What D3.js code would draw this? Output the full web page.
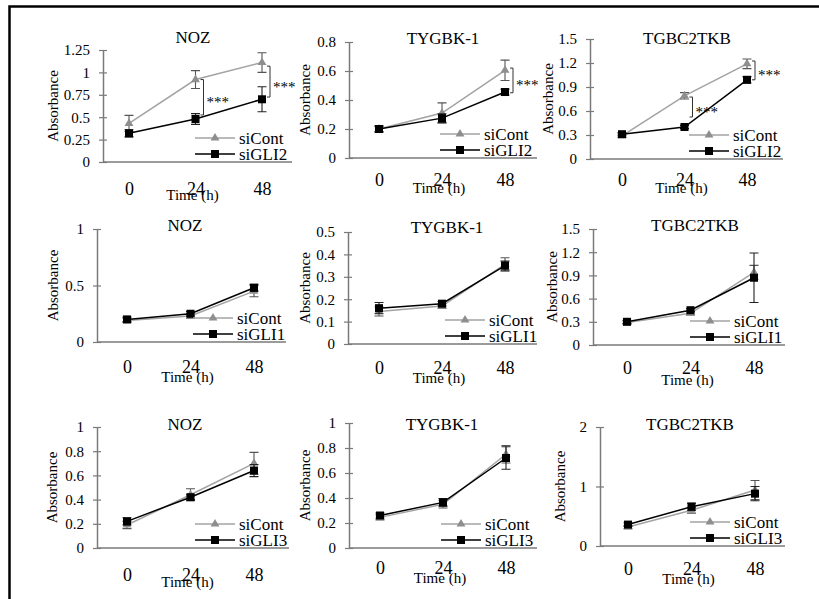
<!DOCTYPE html>
<html>
<head>
<meta charset="utf-8">
<script src="https://cdn.jsdelivr.net/npm/d3@7"></script>
<style>
  body { margin: 0; background: #fff; }
</style>
</head>
<body>
<script>
// absorbance after siRNA knockdown, 3 cell lines x 3 GLI targets

var times = [0, 24, 48];
var cellLines = ["NOZ", "TYGBK-1", "TGBC2TKB"];
var knockdowns = ["siGLI2", "siGLI1", "siGLI3"];
var controlName = "siCont";

// y axis settings per panel (row by row)
var yMax  = [1.25, 0.8, 1.5,  1, 0.5, 1.5,  1, 1, 2];
var yStep = [0.25, 0.2, 0.3,  0.5, 0.1, 0.3,  0.2, 0.2, 1];

// siCont mean / error per panel
var contMean = [
  [0.43, 0.92, 1.11], [0.20, 0.31, 0.605], [0.29, 0.79, 1.19],
  [0.19, 0.23, 0.45], [0.145, 0.17, 0.355], [0.29, 0.41, 0.94],
  [0.19, 0.44, 0.70], [0.245, 0.35, 0.75], [0.32, 0.60, 0.94]
];
var contErr = [
  [0.09, 0.10, 0.11], [0.02, 0.07, 0.07], [0.02, 0.04, 0.06],
  [0.02, 0.02, 0.05], [0.02, 0.01, 0.03], [0.02, 0.02, 0.09],
  [0.03, 0.05, 0.09], [0.02, 0.03, 0.07], [0.03, 0.05, 0.16]
];
// siGLI mean / error per panel
var kdMean = [
  [0.32, 0.48, 0.70], [0.20, 0.275, 0.455], [0.31, 0.40, 0.99],
  [0.20, 0.25, 0.48], [0.16, 0.18, 0.35], [0.30, 0.45, 0.87],
  [0.22, 0.42, 0.64], [0.26, 0.365, 0.72], [0.36, 0.66, 0.88]
];
var kdErr = [
  [0.04, 0.06, 0.14], [0.02, 0.03, 0.02], [0.02, 0.02, 0.04],
  [0.02, 0.02, 0.03], [0.025, 0.01, 0.02], [0.02, 0.02, 0.32],
  [0.03, 0.02, 0.05], [0.02, 0.03, 0.09], [0.03, 0.06, 0.12]
];

// significance brackets (***)
var sigPanel  = [0, 0, 1, 2, 2];
var sigTime   = [24, 48, 48, 24, 48];
var sigTop    = [0.92, 1.07, 0.62, 0.775, 1.225];
var sigBottom = [0.525, 0.725, 0.45, 0.525, 0.99];

// where each small chart sits on the page
var layout = [
  {left: 103, right: 292, top: 50,  bottom: 162, x0: 129, x48: 262, tx: 193, ty: 37,  labDy: 27, timeDy: 33, legX: 215, absDx: -50},
  {left: 349, right: 537, top: 42,  bottom: 158, x0: 379, x48: 505, tx: 443, ty: 38,  labDy: 22, timeDy: 30, legX: 460, absDx: -44},
  {left: 590, right: 783, top: 39,  bottom: 159, x0: 622, x48: 747, tx: 687, ty: 38,  labDy: 21, timeDy: 29, legX: 709, absDx: -42},
  {left: 97,  right: 286, top: 229, bottom: 342, x0: 127, x48: 254, tx: 185, ty: 225, labDy: 25, timeDy: 35, legX: 213, absDx: -44},
  {left: 348, right: 537, top: 232, bottom: 344, x0: 379, x48: 505, tx: 447, ty: 227, labDy: 24, timeDy: 34, legX: 465, absDx: -43},
  {left: 593, right: 785, top: 229, bottom: 345, x0: 627, x48: 754, tx: 695, ty: 225, labDy: 23, timeDy: 35, legX: 710, absDx: -41},
  {left: 97,  right: 289, top: 427, bottom: 548, x0: 127, x48: 254, tx: 185, ty: 424, labDy: 27, timeDy: 34, legX: 215, absDx: -45},
  {left: 349, right: 537, top: 423, bottom: 548, x0: 380, x48: 506, tx: 442, ty: 424, labDy: 20, timeDy: 30, legX: 461, absDx: -44},
  {left: 600, right: 785, top: 427, bottom: 546, x0: 628, x48: 755, tx: 690, ty: 424, labDy: 23, timeDy: 33, legX: 710, absDx: -40}
];

var width = 819,
    height = 599;

var serif = "'Liberation Serif', 'DejaVu Serif', serif";

var gray = "#a3a3a3",
    grayMark = "#8e8e8e",
    axisColor = "#7a7a7a";

var svg = d3.select("body").append("svg")
    .attr("width", width)
    .attr("height", height)
    .style("font-family", serif);

// frame (left + top only)
svg.append("path")
    .attr("d", "M9.5," + height + "V6.5H" + width)
    .attr("fill", "none")
    .attr("stroke", "#000")
    .attr("stroke-width", 2.5);

var triangle = d3.symbol().type(d3.symbolTriangle).size(34);

function label(sel) {
  return sel.style("font-family", serif).attr("fill", "#000");
}

layout.forEach(function(L, p) {
  var g = svg.append("g");

  var x = d3.scaleLinear().domain([0, 48]).range([L.x0, L.x48]);
  var y = d3.scaleLinear().domain([0, yMax[p]]).range([L.bottom, L.top]);

  var n = Math.round(yMax[p] / yStep[p]);
  var ticks = d3.range(n + 1).map(function(i) { return +(i * yStep[p]).toFixed(2); });

  // y axis with cross ticks
  var ya = g.append("g")
      .attr("transform", "translate(" + L.left + ",0)")
      .call(d3.axisLeft(y).tickValues(ticks).tickSize(4).tickSizeOuter(0).tickPadding(9)
        .tickFormat(function(d) { return String(d); }));
  ya.select(".domain").attr("stroke", axisColor).attr("stroke-width", 1.5);
  ya.selectAll(".tick line").attr("x1", 4).attr("stroke", axisColor).attr("stroke-width", 1.2);
  label(ya.selectAll(".tick text")).attr("font-size", 15);

  // x axis line spans the whole plot
  g.append("line")
      .attr("x1", L.left).attr("x2", L.right)
      .attr("y1", L.bottom).attr("y2", L.bottom)
      .attr("stroke", axisColor)
      .attr("stroke-width", 1.5);

  var xa = g.append("g")
      .attr("transform", "translate(0," + L.bottom + ")")
      .call(d3.axisBottom(x).tickValues(times).tickSize(0));
  xa.select(".domain").remove();
  label(xa.selectAll(".tick text")).attr("font-size", 18).attr("dy", "0.32em").attr("y", L.labDy);

  // titles
  label(g.append("text"))
      .attr("x", L.tx).attr("y", L.ty)
      .attr("text-anchor", "middle")
      .attr("dominant-baseline", "central")
      .attr("font-size", 17)
      .text(cellLines[p % 3]);

  label(g.append("text"))
      .attr("transform", "translate(" + (L.left + L.absDx) + "," + ((L.top + L.bottom) / 2) + ") rotate(-90)")
      .attr("text-anchor", "middle")
      .attr("dominant-baseline", "central")
      .attr("font-size", 15)
      .text("Absorbance");

  label(g.append("text"))
      .attr("x", x(24) - 3).attr("y", L.bottom + L.timeDy)
      .attr("text-anchor", "middle")
      .attr("dominant-baseline", "central")
      .attr("font-size", 15)
      .text("Time (h)");

  var line = d3.line()
      .x(function(d, i) { return x(times[i]); })
      .y(function(d) { return y(d); });

  function errorBars(means, errs, color) {
    times.forEach(function(t, i) {
      var cx = x(t), lo = y(means[i] - errs[i]), hi = y(means[i] + errs[i]);
      g.append("path")
          .attr("d", "M" + cx + "," + lo + "V" + hi +
                     "M" + (cx - 4.5) + "," + hi + "H" + (cx + 4.5) +
                     "M" + (cx - 4.5) + "," + lo + "H" + (cx + 4.5))
          .attr("fill", "none")
          .attr("stroke", color)
          .attr("stroke-width", 1.1);
    });
  }

  // siCont
  g.append("path")
      .datum(contMean[p])
      .attr("d", line)
      .attr("fill", "none")
      .attr("stroke", gray)
      .attr("stroke-width", 1.5);
  errorBars(contMean[p], contErr[p], "#555");
  g.selectAll(".tri")
      .data(contMean[p])
      .enter().append("path")
      .attr("transform", function(d, i) { return "translate(" + x(times[i]) + "," + y(d) + ")"; })
      .attr("d", triangle)
      .attr("fill", grayMark);

  // siGLI
  g.append("path")
      .datum(kdMean[p])
      .attr("d", line)
      .attr("fill", "none")
      .attr("stroke", "#000")
      .attr("stroke-width", 1.5);
  errorBars(kdMean[p], kdErr[p], "#222");
  g.selectAll(".sq")
      .data(kdMean[p])
      .enter().append("rect")
      .attr("x", function(d, i) { return x(times[i]) - 4; })
      .attr("y", function(d) { return y(d) - 4; })
      .attr("width", 8)
      .attr("height", 8)
      .attr("fill", "#000");

  // legend
  var legend = [
    {name: controlName, color: gray, mark: grayMark, tri: true, dy: -24},
    {name: knockdowns[Math.floor(p / 3)], color: "#000", mark: "#000", tri: false, dy: -8}
  ];
  legend.forEach(function(l) {
    var ly = L.bottom + l.dy;
    g.append("line")
        .attr("x1", L.legX - 20).attr("x2", L.legX + 20)
        .attr("y1", ly).attr("y2", ly)
        .attr("stroke", l.color)
        .attr("stroke-width", 1.5);
    if (l.tri) {
      g.append("path")
          .attr("transform", "translate(" + L.legX + "," + ly + ")")
          .attr("d", triangle)
          .attr("fill", l.mark);
    } else {
      g.append("rect")
          .attr("x", L.legX - 4).attr("y", ly - 4)
          .attr("width", 8).attr("height", 8)
          .attr("fill", l.mark);
    }
    label(g.append("text"))
        .attr("x", L.legX + 24).attr("y", ly)
        .attr("dominant-baseline", "central")
        .attr("font-size", 17)
        .text(l.name);
  });

  // *** brackets
  sigPanel.forEach(function(sp, k) {
    if (sp !== p) return;
    var bx = x(sigTime[k]) + 8, t = y(sigTop[k]), b = y(sigBottom[k]);
    g.append("path")
        .attr("d", "M" + (bx - 3) + "," + t + "H" + bx + "V" + b + "H" + (bx - 3))
        .attr("fill", "none")
        .attr("stroke", "#333")
        .attr("stroke-width", 1);
    label(g.append("text"))
        .attr("x", bx + 3).attr("y", (t + b) / 2 + 5)
        .attr("dominant-baseline", "central")
        .attr("font-size", 15)
        .text("***");
  });
});
</script>
</body>
</html>
